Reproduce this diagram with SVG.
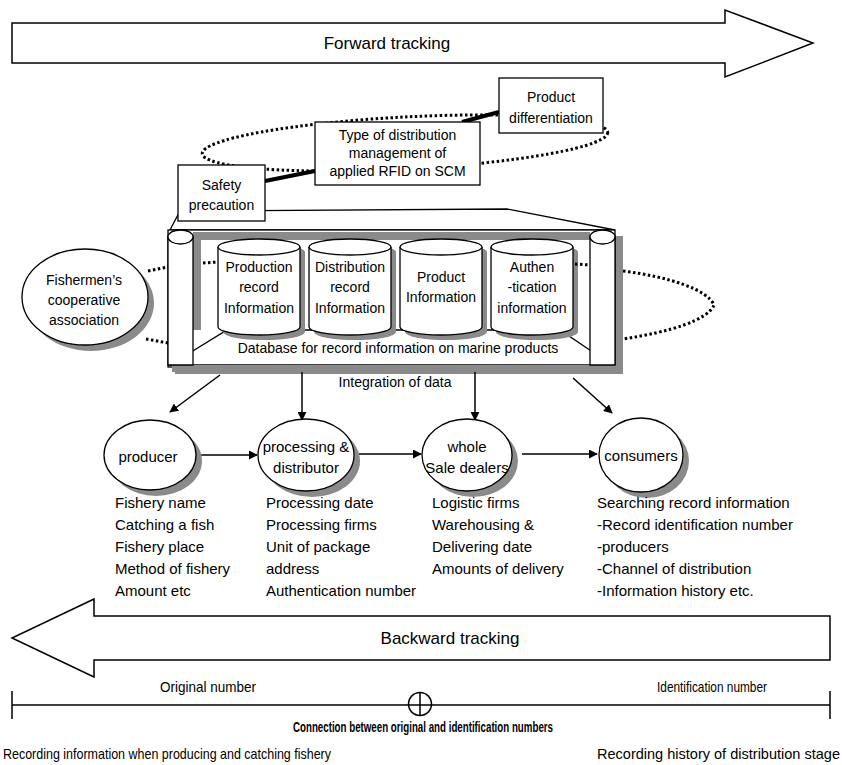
<svg xmlns="http://www.w3.org/2000/svg" width="842" height="765" viewBox="0 0 842 765">
<style>
  text { font-family: "Liberation Sans", Arial, sans-serif; fill: #000; }
  .t14 { font-size: 14px; }
  .t15 { font-size: 15px; }
  .mid { text-anchor: middle; }
  .ln { fill: none; stroke: #000; stroke-width: 1.5; }
  .box { fill: #fff; stroke: #000; stroke-width: 1.3; }
  .sh { fill: #8a8a8a; stroke: none; }
  .dot { fill: none; stroke: #000; stroke-width: 3; stroke-dasharray: 2.5 2.5; }
  .arr { fill: none; stroke: #000; stroke-width: 1.5; marker-end: url(#ah); }
</style>
<defs>
  <marker id="ah" viewBox="0 0 10 10" refX="9" refY="5" markerWidth="9" markerHeight="9" markerUnits="userSpaceOnUse" orient="auto">
    <path d="M0,0 L10,5 L0,10 Z" fill="#000"/>
  </marker>
</defs>
<rect width="842" height="765" fill="#fff"/>

<g id="forward-arrow">
  <polygon class="ln" points="12,23 725,23 725,10 813,43 725,77 725,63 12,63"/>
  <text x="387" y="49" class="mid" style="font-size:17px">Forward tracking</text>
</g>

<g id="connectors-top">
  <ellipse class="dot" cx="405" cy="143" rx="203" ry="26" transform="rotate(-3 405 143)"/>
  <path d="M265,181 L315,171" stroke="#000" stroke-width="4" fill="none"/>
  <path d="M462,122 L499,112" stroke="#000" stroke-width="4" fill="none"/>
</g>

<g id="database">
  <polygon points="170,230 180,211 507,209 615,230" fill="#fff" stroke="#000" stroke-width="1.3"/>
  <rect class="sh" x="175" y="236" width="448" height="138"/>
  <rect x="168" y="230" width="447" height="137" fill="#fff" stroke="#000" stroke-width="1.3"/>
  <rect class="sh" x="193" y="232" width="397" height="8"/>
  <rect class="sh" x="193" y="232" width="8" height="98"/>
  <polygon points="227,330 560,330 612,365 170,365" fill="#fff" stroke="#000" stroke-width="1.3"/>
  <rect class="sh" x="172" y="365" width="445" height="7"/>
  <path d="M168,237 A12.5,7 0 0,1 193,237 V365 H168 Z" fill="#fff" stroke="#000" stroke-width="1.3"/>
  <ellipse cx="180.5" cy="237" rx="12.5" ry="7" fill="#fff" stroke="#000" stroke-width="1.3"/>
  <path d="M590,237 A12.5,7 0 0,1 615,237 V365 H590 Z" fill="#fff" stroke="#000" stroke-width="1.3"/>
  <ellipse cx="602.5" cy="237" rx="12.5" ry="7" fill="#fff" stroke="#000" stroke-width="1.3"/>
  <text x="398" y="353" class="t14 mid">Database for record information on marine products</text>
</g>

<g id="cyl-production">
  <path class="sh" d="M223,252 A41,8 0 0,1 305,252 V332 A41,8 0 0,1 223,332 Z"/>
  <path class="box" d="M218,247 A41,8 0 0,1 300,247 V327 A41,8 0 0,1 218,327 Z"/>
  <path class="box" d="M218,247 A41,8 0 0,0 300,247"/>
  <text x="259" y="272" class="t14 mid">Production</text>
  <text x="259" y="292" class="t14 mid">record</text>
  <text x="259" y="313" class="t14 mid">Information</text>
</g>
<g id="cyl-distribution">
  <path class="sh" d="M314,252 A41,8 0 0,1 396,252 V332 A41,8 0 0,1 314,332 Z"/>
  <path class="box" d="M309,247 A41,8 0 0,1 391,247 V327 A41,8 0 0,1 309,327 Z"/>
  <path class="box" d="M309,247 A41,8 0 0,0 391,247"/>
  <text x="350" y="272" class="t14 mid">Distribution</text>
  <text x="350" y="292" class="t14 mid">record</text>
  <text x="350" y="313" class="t14 mid">Information</text>
</g>
<g id="cyl-product">
  <path class="sh" d="M405,252 A41,8 0 0,1 487,252 V332 A41,8 0 0,1 405,332 Z"/>
  <path class="box" d="M400,247 A41,8 0 0,1 482,247 V327 A41,8 0 0,1 400,327 Z"/>
  <path class="box" d="M400,247 A41,8 0 0,0 482,247"/>
  <text x="441" y="282" class="t14 mid">Product</text>
  <text x="441" y="302" class="t14 mid">Information</text>
</g>
<g id="cyl-authentication">
  <path class="sh" d="M496,252 A41,8 0 0,1 578,252 V332 A41,8 0 0,1 496,332 Z"/>
  <path class="box" d="M491,247 A41,8 0 0,1 573,247 V327 A41,8 0 0,1 491,327 Z"/>
  <path class="box" d="M491,247 A41,8 0 0,0 573,247"/>
  <text x="532" y="272" class="t14 mid">Authen</text>
  <text x="532" y="292" class="t14 mid">-tication</text>
  <text x="532" y="313" class="t14 mid">information</text>
</g>

<g id="safety-precaution">
  <rect class="box" x="178" y="165" width="87" height="56"/>
  <text x="221.5" y="190" class="t14 mid">Safety</text>
  <text x="221.5" y="210" class="t14 mid">precaution</text>
</g>
<g id="distribution-management">
  <rect class="box" x="315" y="122" width="165" height="63"/>
  <text x="397.5" y="140" class="t14 mid">Type of distribution</text>
  <text x="397.5" y="158" class="t14 mid">management of</text>
  <text x="397.5" y="176" class="t14 mid">applied RFID on  SCM</text>
</g>
<g id="product-differentiation">
  <rect class="box" x="499" y="78" width="104" height="55"/>
  <text x="551" y="102" class="t14 mid">Product</text>
  <text x="551" y="123" class="t14 mid">differentiation</text>
</g>

<g id="fishermen">
  <ellipse class="sh" cx="91" cy="303" rx="63" ry="48"/>
  <ellipse class="box" cx="85" cy="297" rx="63" ry="48"/>
  <text x="84" y="285" class="t14 mid">Fishermen’s</text>
  <text x="84" y="305" class="t14 mid">cooperative</text>
  <text x="84" y="325" class="t14 mid">association</text>
</g>

<g id="connectors">
  <path class="dot" d="M148,271 L168,267"/>
  <path class="dot" d="M203,263 L218,262"/>
  <path class="dot" d="M146,339 L168,343"/>
  <path class="dot" d="M575,264 L590,265"/>
  <path class="dot" d="M623,271 C670,277 708,290 714,305 C708,320 670,332 623,339"/>
  <path class="arr" d="M220,375 L170,412"/>
  <path class="arr" d="M302,372 L302,420"/>
  <path class="arr" d="M475,372 L475,420"/>
  <path class="arr" d="M573,378 L612,413"/>
  <path class="arr" d="M197,455 L257,455"/>
  <path class="arr" d="M357,454 L421,454"/>
  <path class="arr" d="M522,454 L597,454"/>
  <text x="395" y="387" class="t14 mid">Integration of data</text>
</g>

<g id="producer">
  <ellipse class="sh" cx="156" cy="461" rx="46" ry="35"/>
  <ellipse class="box" cx="150" cy="455" rx="46" ry="35"/>
  <text x="148" y="462" class="t15 mid">producer</text>
</g>
<g id="processing-distributor">
  <ellipse class="sh" cx="312" cy="461" rx="48" ry="36"/>
  <ellipse class="box" cx="306" cy="455" rx="48" ry="36"/>
  <text x="306" y="452" class="t15 mid">processing &amp;</text>
  <text x="306" y="473" class="t15 mid">distributor</text>
</g>
<g id="wholesale-dealers">
  <ellipse class="sh" cx="473" cy="461" rx="45" ry="36"/>
  <ellipse class="box" cx="467" cy="455" rx="45" ry="36"/>
  <text x="467" y="452" class="t15 mid">whole</text>
  <text x="467" y="473" class="t15 mid">Sale dealers</text>
</g>
<g id="consumers">
  <ellipse class="sh" cx="647" cy="461" rx="42" ry="37"/>
  <ellipse class="box" cx="641" cy="455" rx="42" ry="37"/>
  <text x="641" y="461" class="t15 mid">consumers</text>
</g>

<g id="lists" class="t15">
  <text x="115" y="508">Fishery name</text>
  <text x="115" y="530">Catching a fish</text>
  <text x="115" y="552">Fishery place</text>
  <text x="115" y="574">Method of fishery</text>
  <text x="115" y="596">Amount etc</text>
  <text x="266" y="508">Processing  date</text>
  <text x="266" y="530">Processing firms</text>
  <text x="266" y="552">Unit of package</text>
  <text x="266" y="574">address</text>
  <text x="266" y="596">Authentication number</text>
  <text x="432" y="508">Logistic firms</text>
  <text x="432" y="530">Warehousing &amp;</text>
  <text x="432" y="552">Delivering date</text>
  <text x="432" y="574">Amounts of delivery</text>
  <text x="597" y="508">Searching record information</text>
  <text x="597" y="530">-Record identification number</text>
  <text x="597" y="552">-producers</text>
  <text x="597" y="574">-Channel of distribution</text>
  <text x="597" y="596">-Information history etc.</text>
</g>

<g id="backward-arrow">
  <polygon class="ln" points="830,616 94,616 94,599 12,638 94,677 94,660 830,660"/>
  <text x="450" y="644" class="mid" style="font-size:17px">Backward tracking</text>
</g>

<g id="number-scale">
  <path class="ln" d="M12,705 H830 M12,691 V719 M830,691 V719"/>
  <circle cx="420" cy="704" r="11.5" fill="#fff" stroke="#000" stroke-width="1.5"/>
  <path class="ln" d="M408.5,705 H431.5 M420,692.5 V715.5"/>
  <text x="208" y="692" class="mid" style="font-size:14.5px" textLength="96" lengthAdjust="spacingAndGlyphs">Original number</text>
  <text x="712" y="692" class="mid" style="font-size:14.5px" textLength="110" lengthAdjust="spacingAndGlyphs">Identification number</text>
  <text x="423" y="732" class="mid" style="font-size:14.5px;font-weight:bold" textLength="260" lengthAdjust="spacingAndGlyphs">Connection between original and identification numbers</text>
  <text x="3" y="759" style="font-size:14.5px" textLength="328" lengthAdjust="spacingAndGlyphs">Recording information when producing and catching fishery</text>
  <text x="840" y="759" style="font-size:14.5px;text-anchor:end" textLength="243" lengthAdjust="spacingAndGlyphs">Recording history of distribution stage</text>
</g>
</svg>
